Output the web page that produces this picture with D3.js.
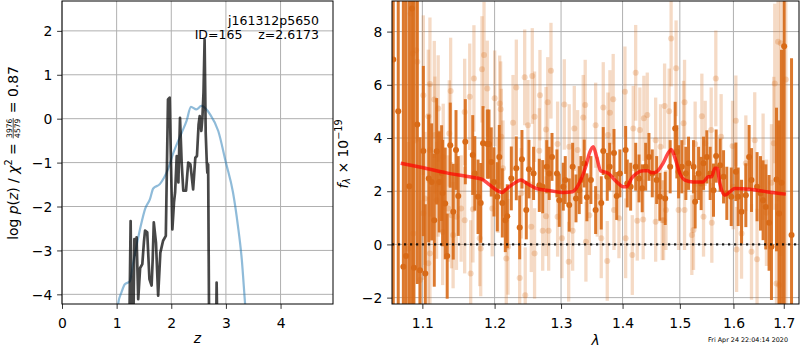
<!DOCTYPE html>
<html><head><meta charset="utf-8">
<script src="https://cdn.jsdelivr.net/npm/d3@7"></script>
<style>body{margin:0;background:#fff} svg{display:block} text{font-family:"DejaVu Sans",sans-serif}</style>
</head><body><svg id="c" width="800" height="350"></svg>
<script>
// ---------- DATA ----------
// p(z) (black) curve
const pzZ = [1.20,1.235,1.256,1.275,1.295,1.31,1.325,1.345,1.365,1.395,1.43,1.47,1.50,1.52,1.56,1.60,1.64,1.66,1.68,1.72,1.76,1.80,1.85,1.90,1.94,1.97,2.02,2.05,2.07,2.10,2.13,2.16,2.19,2.22,2.27,2.31,2.35,2.40,2.44,2.47,2.50,2.52,2.55,2.57,2.59,2.61,2.63,2.65,2.66,2.675,2.69,2.70,2.80,2.82,2.83,2.845,2.86];
const pzLogP = [-6,-4.5,-2.33,-4.5,-6,-4.3,-2.74,-3.1,-2.70,-4.11,-3.4,-3.31,-2.8,-2.55,-2.59,-3.65,-3.8,-3.2,-2.36,-2.82,-4.03,-3.05,-2.78,-2.67,0.44,0.48,-2.52,-1.9,-1.68,-0.85,-1.45,0.02,-1.0,-1.64,-1.64,-1.0,-1.04,-1.61,-0.89,-0.85,-0.13,0.06,-0.28,0.02,0.6,1.80,-0.32,-1.0,-1.23,-1.04,-4.2,-6,-6,-5,-3.73,-5,-6];
// prior / chi2 curve (blue)
const priorZ = [1.00,1.03,1.09,1.15,1.24,1.30,1.365,1.44,1.52,1.61,1.67,1.79,1.94,2.035,2.19,2.28,2.36,2.46,2.55,2.71,2.86,3.00,3.13,3.22,3.29,3.35,3.40];
const priorLogP = [-4.8,-4.2,-3.95,-3.77,-3.71,-3.3,-2.89,-2.45,-2.06,-1.83,-1.59,-1.49,-1.15,-0.79,-0.32,-0.05,0.27,0.21,0.29,0.10,-0.28,-1.0,-1.68,-2.44,-3.2,-4.2,-5.0];

// spectrum, first (dark) set
const darkWave = [1.0621,1.0685,1.0751,1.0786,1.0829,1.0863,1.0889,1.0933,1.0969,1.1013,
1.1039,1.1085,1.1124,1.1159,1.1191,1.1226,1.1258,1.1272,1.1307,1.1334,
1.1376,1.1417,1.1455,1.1486,1.1584,1.1688,1.1717,1.1763,1.1801,1.1834,
1.1895,1.1919,1.1952,1.1991,1.2039,1.2068,1.2112,1.2156,1.2185,1.2244,
1.2318,1.2368,1.2402,1.2467,1.2507,1.2577,1.2664,1.2716,1.2778,1.2816,
1.2859,1.2936,1.2972,1.3035,1.3066,1.3129,1.3183,1.3236,1.3288,1.3315,
1.3368,1.3411,1.3476,1.3553,1.3645,1.3678,1.3744,1.3784,1.3856,1.3901,
1.3955,1.4052,1.4079,1.4137,1.4223,1.4280,1.4335,1.4395,1.4452,1.4510,
1.4587,1.4643,1.4738,1.4826,1.4916,1.4946,1.4977,1.5036,1.5109,1.5158,
1.5249,1.5279,1.5342,1.5390,1.5434,1.5496,1.5558,1.5621,1.5670,1.5746,
1.5811,1.5873,1.5958,1.6047,1.6092,1.6157,1.6241,1.6305,1.6352,1.6462,
1.6530,1.6582,1.6636,1.6702,1.6750,1.6852,1.6905,1.6954,1.7008,1.7160];
const darkFlux = [6.95,5.01,-0.84,-0.44,2.19,8.87,-0.88,4.51,-0.97,3.51,
-1.09,2.48,2.35,0.91,3.50,2.35,2.68,1.93,1.54,-0.44,
3.73,1.23,3.55,1.82,3.86,3.36,2.67,1.79,1.56,3.80,
3.77,3.77,3.10,2.35,1.79,3.29,1.56,0.91,1.06,2.48,
2.86,0.64,3.20,1.29,2.83,2.67,2.22,2.17,2.92,2.67,
3.29,2.67,1.66,2.17,2.42,1.48,2.92,1.73,2.04,2.42,
3.04,1.77,2.42,1.29,1.56,3.51,2.54,2.92,3.44,1.82,
2.67,3.55,2.29,2.17,2.92,2.48,2.11,2.92,3.29,2.67,
2.42,1.79,1.73,2.92,4.36,3.48,2.73,2.92,2.67,3.05,
2.92,1.60,2.67,2.29,3.05,3.29,2.67,2.04,3.32,2.98,
2.54,1.92,1.79,2.73,1.79,1.23,1.85,3.29,2.42,2.17,
1.92,1.66,1.41,0.81,-0.09,2.44,1.16,2.32,7.45,0.35];
const darkErr = [20,20,20,20,14,20,12,6,5,3.2,
2.6,2.4,2.2,2.5,2.0,1.9,1.8,2.0,2.1,1.6,
1.6,1.8,1.5,1.5,1.6,1.5,1.4,1.4,1.5,1.4,
1.3,1.3,1.3,1.3,1.3,1.2,1.3,1.2,1.2,1.2,
1.2,1.2,1.1,1.1,1.1,1.0,1.0,1.0,1.0,1.0,
0.9,0.9,1.0,0.9,0.9,1.0,0.9,0.9,0.9,0.9,
0.9,0.9,0.9,0.9,1.0,0.9,0.9,0.9,0.9,0.9,
0.9,0.9,0.9,0.9,0.9,0.9,0.9,0.9,0.9,0.9,
0.9,0.9,1.0,1.0,1.0,1.0,1.0,1.0,1.0,1.0,
1.0,1.0,1.0,1.0,1.0,1.0,1.0,1.0,1.0,1.0,
1.0,1.0,1.1,1.1,1.1,1.2,1.2,1.2,1.2,1.3,
1.4,1.5,1.6,1.8,2.0,2.7,3.5,5,20,6.65];

// spectrum, second (faded) set
const lightWave = [1.0816,1.0847,1.0873,1.0881,1.0917,1.0933,1.0969,1.1013,1.1013,1.1035,
1.1079,1.1079,1.1101,1.1101,1.1101,1.1159,1.1168,1.1190,1.1212,1.1212,
1.1272,1.1280,1.1348,1.1363,1.1381,1.1393,1.1415,1.1461,1.1526,1.1575,
1.1575,1.1646,1.1659,1.1691,1.1705,1.1787,1.1801,1.1819,1.1848,1.1895,
1.1966,1.2001,1.2049,1.2074,1.2088,1.2097,1.2122,1.2170,1.2195,1.2269,
1.2318,1.2368,1.2392,1.2443,1.2451,1.2492,1.2542,1.2557,1.2592,1.2592,
1.2664,1.2674,1.2716,1.2767,1.2767,1.2793,1.2807,1.2843,1.2946,1.2946,
1.3014,1.3051,1.3120,1.3129,1.3183,1.3209,1.3262,1.3352,1.3384,1.3395,
1.3450,1.3553,1.3580,1.3645,1.3678,1.3744,1.3755,1.3788,1.3843,1.3856,
1.3939,1.4040,1.4052,1.4165,1.4181,1.4223,1.4250,1.4295,1.4352,1.4364,
1.4423,1.4569,1.4569,1.4655,1.4684,1.4709,1.4727,1.4751,1.4808,1.4843,
1.4932,1.4977,1.5067,1.5085,1.5085,1.5218,1.5249,1.5279,1.5403,1.5434,
1.5465,1.5577,1.5589,1.5664,1.5765,1.5983,1.5996,1.6047,1.6061,1.6157,
1.6241,1.6352,1.6416,1.6462,1.6582,1.6649,1.6750,1.6797,1.6817,1.6852,
1.6884,1.6905,1.6940,1.7042];
const lightFlux = [-0.15,8.68,7.18,0.41,7.30,6.87,-1.34,5.61,1.17,1.73,
4.82,-0.71,6.03,-0.34,3.55,5.45,4.11,1.66,5.11,2.29,
0.47,3.29,1.35,4.17,5.77,1.10,0.35,1.04,1.35,4.98,
0.91,5.55,-1.09,1.32,6.24,0.23,-0.15,6.58,7.12,5.86,
1.35,5.49,2.23,5.30,5.08,4.05,2.86,-0.53,-0.09,4.57,
5.90,-1.26,1.92,6.28,-1.91,4.48,0.66,6.33,4.80,-0.34,
3.52,5.61,0.51,4.32,1.06,5.34,0.51,6.53,3.77,1.04,
0.23,5.26,-0.65,3.67,0.51,4.36,3.55,4.77,5.24,0.10,
1.10,4.48,1.79,0.23,5.15,-0.62,4.11,4.95,5.46,1.29,
0.98,5.74,0.23,-0.40,4.36,6.45,0.89,4.30,0.94,4.74,
4.86,3.92,0.85,3.67,0.91,0.91,5.20,1.29,5.01,7.74,
6.62,1.29,4.55,5.34,1.29,0.35,0.54,3.77,4.82,1.04,
3.80,4.30,0.81,6.24,4.05,3.70,2.17,4.65,-0.19,0.41,
3.05,-0.28,3.92,-0.56,2.92,1.19,2.32,3.80,6.05,-1.47,
7.62,-1.53,7.56,6.20];
const lightErr = [4,4,4,3.5,3.5,3,3,3,2.5,2.5,
2.5,2.5,2.5,2.5,2.5,2.2,2.2,2.2,2,2,
2,2,2,2,2,2,2,2,2,2,
2,2,2,2,2,1.8,1.8,2,2,1.8,
1.8,1.8,1.8,1.8,1.8,1.8,1.8,1.8,1.8,1.8,
1.8,1.8,1.7,1.8,1.8,1.7,1.7,1.8,1.7,1.7,
1.6,1.7,1.5,1.6,1.5,1.7,1.5,1.8,1.6,1.5,
1.5,1.7,1.5,1.6,1.5,1.6,1.5,1.6,1.7,1.5,
1.5,1.6,1.5,1.5,1.7,1.5,1.6,1.6,1.7,1.5,
1.5,1.7,1.5,1.5,1.6,1.8,1.5,1.6,1.5,1.6,
1.6,1.6,1.5,1.6,1.5,1.5,1.6,1.5,1.6,1.8,
1.8,1.5,1.6,1.6,1.5,1.5,1.5,1.6,1.6,1.5,
1.6,1.6,1.5,1.8,1.6,1.7,1.6,1.7,1.6,1.7,
1.8,1.8,1.8,1.9,2.0,2.0,2.2,2.5,3,3,
6,6,8,10];

// best-fit model (red)
const modelWave = [1.0717,1.1013,1.1325,1.1643,1.1814,1.1933,1.2030,1.2104,1.2180,1.2300,1.2386,1.2477,1.2625,1.2827,1.3035,1.3183,1.3272,1.3384,1.3460,1.3514,1.3569,1.3634,1.3762,1.3901,1.4010,1.4067,1.4151,1.4238,1.4351,1.4437,1.4497,1.4583,1.4699,1.4786,1.4847,1.4906,1.5000,1.5091,1.5243,1.5427,1.5521,1.5584,1.5646,1.5690,1.5740,1.5836,1.5931,1.6028,1.6319,1.6650,1.7042];
const modelFlux = [3.05,2.88,2.69,2.54,2.45,2.23,2.04,1.95,2.1,2.32,2.42,2.29,2.1,2.02,1.95,1.98,2.23,2.86,3.48,3.67,3.29,2.77,2.67,2.35,2.17,2.17,2.48,2.67,2.77,2.77,2.69,2.73,3.05,3.42,3.57,3.29,2.67,2.42,2.35,2.35,2.54,2.54,2.86,2.86,2.29,1.85,1.98,2.1,2.07,1.98,1.89];

// ticks and texts
const leftXTicks = [0,1,2,3,4];
const leftYTicks = [-4,-3,-2,-1,0,1,2];
const rightXTicks = [1.1,1.2,1.3,1.4,1.5,1.6,1.7];
const rightYTicks = [-2,0,2,4,6,8];
const objName = "j161312p5650";
const objInfo = "ID=165    z=2.6173";
const chi2Num = "3976", chi2Den = "4579", chi2Val = "0.87";
const stamp = "Fri Apr 24 22:04:14 2020";

// ---------- DRAW ----------
const svg = d3.select('#c');
const FS = 13.9;
const ORANGE = '#d86a17';
const GRID = '#b0b0b0';

function panel(box, xs, ys, xt, yt, xfmt, yfmt, id) {
  const g = svg.append('g');
  svg.append('clipPath').attr('id', id).append('rect')
    .attr('x', box.x0).attr('y', box.y0).attr('width', box.x1 - box.x0).attr('height', box.y1 - box.y0);
  g.selectAll('.gx').data(xt).join('line')
    .attr('x1', d => xs(d)).attr('x2', d => xs(d)).attr('y1', box.y0).attr('y2', box.y1)
    .attr('stroke', GRID).attr('stroke-width', 1);
  g.selectAll('.gy').data(yt).join('line')
    .attr('y1', d => ys(d)).attr('y2', d => ys(d)).attr('x1', box.x0).attr('x2', box.x1)
    .attr('stroke', GRID).attr('stroke-width', 1);
  const plot = svg.append('g').attr('clip-path', `url(#${id})`);
  const top = svg.append('g');
  const ax = top.append('g').attr('transform', `translate(0,${box.y1})`)
    .call(d3.axisBottom(xs).tickValues(xt).tickFormat(xfmt).tickSize(4.9).tickSizeOuter(0));
  ax.select('.domain').remove();
  ax.selectAll('text').attr('y', 24).attr('dy', 0).attr('font-size', FS).attr('font-family', 'DejaVu Sans').attr('fill', '#000');
  ax.selectAll('line').attr('stroke', '#000').attr('stroke-width', 0.8);
  const ay = top.append('g').attr('transform', `translate(${box.x0},0)`)
    .call(d3.axisLeft(ys).tickValues(yt).tickFormat(yfmt).tickSize(4.9).tickPadding(4.8).tickSizeOuter(0));
  ay.select('.domain').remove();
  ay.selectAll('text').attr('font-size', FS).attr('font-family', 'DejaVu Sans').attr('fill', '#000').attr('dy', '0.34em');
  ay.selectAll('line').attr('stroke', '#000').attr('stroke-width', 0.8);
  top.append('rect').attr('x', box.x0).attr('y', box.y0).attr('width', box.x1 - box.x0).attr('height', box.y1 - box.y0)
    .attr('fill', 'none').attr('stroke', '#000').attr('stroke-width', 1);
  return {plot, top};
}

// ---- left panel ----
const LB = {x0: 62, x1: 333, y0: 1, y1: 304};
const xL = d3.scaleLinear().domain([0, 4.96]).range([LB.x0, LB.x1]);
const yL = d3.scaleLinear().domain([-4.22, 2.68]).range([LB.y1, LB.y0]);
const left = panel(LB, xL, yL, leftXTicks, leftYTicks, d3.format('d'), d3.format('d'), 'clipL');

left.plot.append('path')
  .datum(priorZ.map((z, i) => [z, priorLogP[i]]))
  .attr('d', d3.line().x(d => xL(d[0])).y(d => yL(d[1])).curve(d3.curveMonotoneX))
  .attr('fill', 'none').attr('stroke', '#1f77b4').attr('stroke-opacity', 0.5).attr('stroke-width', 2.2);
left.plot.append('path')
  .datum(pzZ.map((z, i) => [z, pzLogP[i]]))
  .attr('d', d3.line().x(d => xL(d[0])).y(d => yL(d[1])))
  .attr('fill', 'none').attr('stroke', '#000').attr('stroke-opacity', 0.72).attr('stroke-width', 2.7)
  .attr('stroke-linejoin', 'round');

left.top.append('text').attr('x', 319).attr('y', 24.5).attr('text-anchor', 'end')
  .attr('font-size', 12.5).text(objName);
left.top.append('text').attr('x', 319).attr('y', 39.3).attr('text-anchor', 'end')
  .attr('font-size', 12.5).style('white-space', 'pre').text(objInfo);

svg.append('text').attr('x', (LB.x0 + LB.x1) / 2).attr('y', 343).attr('text-anchor', 'middle')
  .attr('font-size', FS).attr('font-style', 'italic').text('z');

// left y label with fraction
{
  const outer = svg.append('g').attr('transform', 'translate(17.5,153) rotate(-90)');
  const g = outer.append('g');
  const t1 = g.append('text').attr('font-size', FS).style('white-space', 'pre');
  t1.append('tspan').text('log ');
  t1.append('tspan').attr('font-style', 'italic').text('p');
  t1.append('tspan').text('(');
  t1.append('tspan').attr('font-style', 'italic').text('z');
  t1.append('tspan').text(') / ');
  t1.append('tspan').attr('font-style', 'italic').text('χ');
  t1.append('tspan').attr('font-size', 9.7).attr('dy', -5.5).text('2');
  t1.append('tspan').attr('dy', 5.5).text(' = ');
  const w1 = t1.node().getComputedTextLength();
  const num = g.append('text').attr('font-size', 7.6).attr('text-anchor', 'middle').text(chi2Num);
  const den = g.append('text').attr('font-size', 7.6).attr('text-anchor', 'middle').text(chi2Den);
  const fw = Math.max(num.node().getComputedTextLength(), den.node().getComputedTextLength()) + 2;
  num.attr('x', w1 + fw / 2).attr('y', -5.6);
  den.attr('x', w1 + fw / 2).attr('y', 2.6);
  g.append('line').attr('x1', w1 + 0.5).attr('x2', w1 + fw - 0.5).attr('y1', -4.3).attr('y2', -4.3)
    .attr('stroke', '#000').attr('stroke-width', 0.7);
  const t3 = g.append('text').attr('font-size', FS).style('white-space', 'pre').attr('x', w1 + fw).text(' = ' + chi2Val);
  const total = w1 + fw + t3.node().getComputedTextLength();
  g.attr('transform', `translate(${-total / 2},0)`);
}

// ---- right panel ----
const RB = {x0: 392, x1: 799, y0: 1, y1: 304};
const xR = d3.scaleLog().domain([1.0605, 1.7315]).range([RB.x0, RB.x1]);
const yR = d3.scaleLinear().domain([-2.24, 9.15]).range([RB.y1, RB.y0]);
const right = panel(RB, xR, yR, rightXTicks, rightYTicks, d3.format('.1f'), d3.format('d'), 'clipR');

const light = lightWave.map((w, i) => ({w, f: lightFlux[i], e: lightErr[i]}));
const dark = darkWave.map((w, i) => ({w, f: darkFlux[i], e: darkErr[i]}));

right.plot.append('g').selectAll('line').data(light).join('line')
  .attr('x1', d => xR(d.w)).attr('x2', d => xR(d.w))
  .attr('y1', d => yR(d.f - d.e)).attr('y2', d => yR(d.f + d.e))
  .attr('stroke', ORANGE).attr('stroke-opacity', 0.25).attr('stroke-width', 3.3);
right.plot.append('g').selectAll('circle').data(light).join('circle')
  .attr('cx', d => xR(d.w)).attr('cy', d => yR(d.f)).attr('r', 3)
  .attr('fill', ORANGE).attr('fill-opacity', 0.25);

right.plot.append('g').selectAll('line').data(dark).join('line')
  .attr('x1', d => xR(d.w)).attr('x2', d => xR(d.w))
  .attr('y1', d => yR(d.f - d.e)).attr('y2', d => yR(d.f + d.e))
  .attr('stroke', ORANGE).attr('stroke-opacity', 0.9).attr('stroke-width', 3);
right.plot.append('g').selectAll('circle').data(dark).join('circle')
  .attr('cx', d => xR(d.w)).attr('cy', d => yR(d.f)).attr('r', 3)
  .attr('fill', ORANGE);

right.plot.append('line').attr('x1', RB.x0).attr('x2', RB.x1).attr('y1', yR(0)).attr('y2', yR(0))
  .attr('stroke', '#000').attr('stroke-opacity', 0.85).attr('stroke-width', 2.2).attr('stroke-dasharray', '2.2,3.8');

right.plot.append('path')
  .datum(modelWave.map((w, i) => [w, modelFlux[i]]))
  .attr('d', d3.line().x(d => xR(d[0])).y(d => yR(d[1])).curve(d3.curveMonotoneX))
  .attr('fill', 'none').attr('stroke', 'red').attr('stroke-opacity', 0.7).attr('stroke-width', 3.5)
  .attr('stroke-linejoin', 'round');

svg.append('text').attr('x', (RB.x0 + RB.x1) / 2).attr('y', 345).attr('text-anchor', 'middle')
  .attr('font-size', FS).attr('font-style', 'italic').text('λ');

{
  const g = svg.append('g').attr('transform', 'translate(347.5,154) rotate(-90)');
  const t = g.append('text').attr('font-size', FS).attr('text-anchor', 'middle').style('white-space', 'pre');
  t.append('tspan').attr('font-style', 'italic').text('f');
  t.append('tspan').attr('font-style', 'italic').attr('font-size', 9.7).attr('dy', 2.8).text('λ');
  t.append('tspan').attr('dy', -2.8).text(' × 10');
  t.append('tspan').attr('font-size', 9.7).attr('dy', -5.5).text('−19');
}

svg.append('text').attr('x', 788).attr('y', 342).attr('text-anchor', 'end')
  .attr('font-size', 6.4).text(stamp);
</script>
</body></html>
